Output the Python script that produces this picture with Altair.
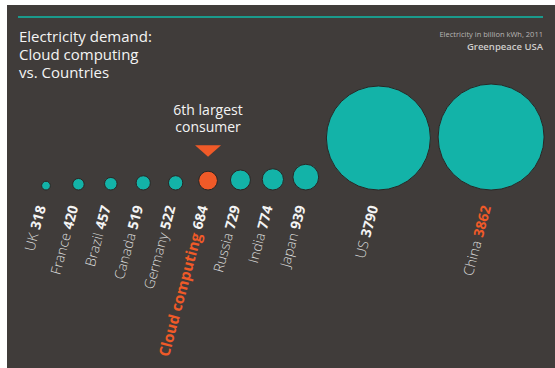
import altair as alt
import pandas as pd

# Electricity demand in billion kWh (2011)
names = ["UK", "France", "Brazil", "Canada", "Germany", "Cloud computing",
         "Russia", "India", "Japan", "US", "China"]
values = [318, 420, 457, 519, 522, 684, 729, 774, 939, 3790, 3862]

title_lines = ["Electricity demand:", "Cloud computing", "vs. Countries"]
source_lines = ["Electricity in billion kWh, 2011", "Greenpeace USA"]
callout_lines = ["6th largest", "consumer"]
highlight = "Cloud computing"

df = pd.DataFrame({"name": names, "value": values})
one = pd.DataFrame({"k": [0]})

# palette
BG = "#403c3a"
TEAL = "#13b3a8"
LINE_TEAL = "#1a9a8c"
ORANGE = "#f05a28"
WHITE = "#f4f4f4"
LIGHT = "#dcdcdc"
FONT = "Open Sans"

# plot geometry (px)
W, H = 548, 363
PX = 104 / 3790          # pixels per billion kWh (circle diameter scale)
MIN_SLOT = 900           # minimum horizontal slot per bubble, in kWh units
GAP = 281                # extra spacing between bubbles, in kWh units
FIRST_X = 39             # pixel centre of the first bubble
BASE_Y = 185             # pixel line the bubbles sit on

x_scale = alt.Scale(domain=[-FIRST_X / PX, (W - FIRST_X) / PX], nice=False, zero=False)
y_scale = alt.Scale(domain=[-(H - BASE_Y) / PX, BASE_Y / PX], nice=False, zero=False)

base = alt.Chart(df).transform_calculate(
    slot=f"max(datum.value, {MIN_SLOT})",
    half="datum.value / 2",
    label="toString(datum.value)",
    name_shift="-(length(toString(datum.value)) * 8.1 + 4)",
).transform_window(
    cum="sum(slot)", idx="row_number()",
    sort=[alt.SortField("value")], frame=[None, 0],
).transform_calculate(
    # bubble centre along the row, with the first bubble at 0
    pos=f"datum.cum - datum.slot / 2 - {MIN_SLOT / 2} + (datum.idx - 1) * {GAP}"
)

X = alt.X("pos:Q", scale=x_scale, axis=None)

bubbles = base.mark_circle(opacity=1, stroke="#2a2624", strokeWidth=1).encode(
    x=X,
    y=alt.Y("half:Q", scale=y_scale, axis=None),
    size=alt.Size("value:Q", scale=alt.Scale(type="pow", exponent=2,
                                             domain=[0, 3790], range=[0, 104 ** 2]),
                  legend=None),
    color=alt.condition(alt.datum.name == highlight, alt.value(ORANGE), alt.value(TEAL)),
)

LABEL_Y = 202
label_style = dict(angle=285, align="right", baseline="middle", dy=-4, font=FONT)

numbers = base.mark_text(fontWeight="bold", fontSize=14, **label_style).encode(
    x=X, y=alt.value(LABEL_Y), text="label:N",
    color=alt.condition(alt.datum.name == "China", alt.value(ORANGE), alt.value(WHITE)),
)

country_names = base.transform_filter(alt.datum.name != highlight).mark_text(
    fontWeight=300, fontSize=14, dx={"expr": "datum.name_shift"}, **label_style
).encode(x=X, y=alt.value(LABEL_Y), text="name:N", color=alt.value(LIGHT))

cloud_name = base.transform_filter(alt.datum.name == highlight).mark_text(
    fontWeight="bold", fontSize=15, dx={"expr": "datum.name_shift"}, **label_style
).encode(x=X, y=alt.value(LABEL_Y), text="name:N", color=alt.value(ORANGE))

callout = base.transform_filter(alt.datum.name == highlight).mark_text(
    font=FONT, fontSize=14, align="center", baseline="alphabetic", lineHeight=17,
    color=WHITE,
).encode(x=X, y=alt.value(110), text=alt.value(callout_lines))

arrow = base.transform_filter(alt.datum.name == highlight).mark_point(
    shape="M -1 -0.45 L 1 -0.45 L 0 0.45 Z", filled=True, opacity=1,
    size=26 ** 2, color=ORANGE, strokeWidth=0,
).encode(x=X, y=alt.value(146))

top_rule = alt.Chart(one).mark_rule(color=LINE_TEAL, strokeWidth=2).encode(
    x=alt.value(11), x2=alt.value(536), y=alt.value(12)
)

title = alt.Chart(one).mark_text(
    font=FONT, fontSize=15, align="left", baseline="alphabetic", lineHeight=18,
    color=WHITE,
).encode(x=alt.value(12), y=alt.value(37), text=alt.value(title_lines))

source1 = alt.Chart(one).mark_text(
    font=FONT, fontSize=7.5, align="right", baseline="alphabetic", color="#b8b6b4",
).encode(x=alt.value(536), y=alt.value(32), text=alt.value(source_lines[0]))

source2 = alt.Chart(one).mark_text(
    font=FONT, fontSize=9.5, fontWeight=600, align="right", baseline="alphabetic",
    color="#cfcdcb",
).encode(x=alt.value(536), y=alt.value(45), text=alt.value(source_lines[1]))

chart = alt.layer(
    top_rule, title, source1, source2, bubbles, numbers, country_names,
    cloud_name, callout, arrow,
).properties(
    width=W, height=H,
    autosize=alt.AutoSizeParams(type="none"),
    padding={"left": 7, "top": 5, "right": 0, "bottom": 0},
    background="white",
).configure_view(fill=BG, stroke=None)

chart.save("out.html", embed_options={"renderer": "svg", "actions": False})
